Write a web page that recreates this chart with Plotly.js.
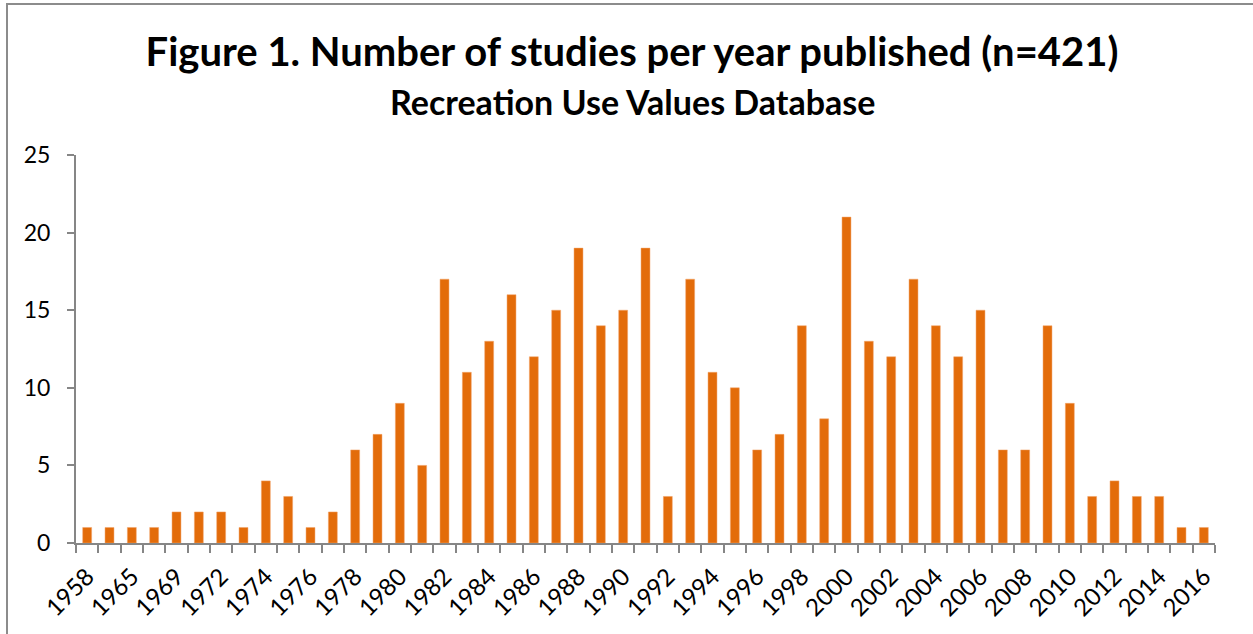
<!DOCTYPE html>
<html>
<head>
<meta charset="utf-8">
<script src="https://cdn.plot.ly/plotly-3.0.1.min.js"></script>
<style>
  html, body { margin: 0; padding: 0; background: #fff; }
  #chart { position: absolute; left: 0; top: 0; width: 1253px; height: 634px; }
  #frame { position: absolute; left: 6px; top: 3px; width: 1260px; height: 640px;
           border-left: 2px solid #8c8c8c; border-top: 2px solid #8c8c8c; pointer-events: none; }
</style>
</head>
<body>
<div id="chart"></div>
<div id="frame"></div>
<script>
// Years (categories) and number of studies per year
const years = ["1958","1963","1965","1967","1969","1970","1972","1973","1974","1975",
  "1976","1977","1978","1979","1980","1981","1982","1983","1984","1985",
  "1986","1987","1988","1989","1990","1991","1992","1993","1994","1995",
  "1996","1997","1998","1999","2000","2001","2002","2003","2004","2005",
  "2006","2007","2008","2009","2010","2011","2012","2013","2014","2015","2016"];
const studies = [1,1,1,1,2,2,2,1,4,3,
  1,2,6,7,9,5,17,11,13,16,
  12,15,19,14,15,19,3,17,11,10,
  6,7,14,8,21,13,12,17,14,12,
  15,6,6,14,9,3,4,3,3,1,1];
const yTicks = [0,5,10,15,20,25];
const titleText = "Figure 1. Number of studies per year published (n=421)";
const subtitleText = "Recreation Use Values Database";

const tickText = years.map((y, i) => (i % 2 === 0 ? y : ""));

const trace = {
  type: "bar",
  x: years,
  y: studies,
  marker: { color: "#E36C0A", line: { width: 0.5, color: "#F3A46A" } },
  hoverinfo: "x+y"
};

const axisGray = "#868686";
const W = 1253, H = 634;
const M = { l: 76, r: 38, t: 155, b: 91 };
const plotH = H - M.t - M.b;
const plotW = W - M.l - M.r;

const layout = {
  width: W, height: H,
  margin: M,
  paper_bgcolor: "#ffffff", plot_bgcolor: "#ffffff",
  bargap: 0.6,
  showlegend: false,
  font: { family: "Lato, 'Open Sans', sans-serif", color: "#000000" },
  title: {
    text: "<b>" + titleText + "</b>",
    font: { family: "Lato, 'Open Sans', sans-serif", size: 40, color: "#000000" },
    xref: "container", x: 632 / W, xanchor: "center",
    yref: "container", y: 1 - 52 / H, yanchor: "middle"
  },
  annotations: [{
    text: "<b>" + subtitleText + "</b>",
    font: { family: "Lato, 'Open Sans', sans-serif", size: 34, color: "#000000" },
    xref: "paper", yref: "paper",
    x: (632 - M.l) / plotW, y: 1 + (155 - 101) / plotH,
    xanchor: "center", yanchor: "middle",
    showarrow: false
  }],
  xaxis: {
    type: "category",
    tickmode: "array",
    tickvals: years,
    ticktext: tickText,
    tickson: "boundaries",
    ticks: "outside", ticklen: 8, tickwidth: 2, tickcolor: axisGray,
    showline: true, linecolor: axisGray, linewidth: 2,
    showgrid: false, zeroline: false,
    tickangle: -45,
    ticklabelstandoff: 8,
    tickfont: { size: 24, color: "#000000" }
  },
  yaxis: {
    range: [0, 25],
    tickmode: "array",
    tickvals: yTicks,
    ticks: "outside", ticklen: 7, tickwidth: 2, tickcolor: axisGray,
    showline: true, linecolor: axisGray, linewidth: 2,
    showgrid: false, zeroline: false,
    ticklabelstandoff: 12,
    tickfont: { size: 23, color: "#000000" }
  }
};

Plotly.newPlot("chart", [trace], layout, { displayModeBar: false, staticPlot: true });
</script>
</body>
</html>
